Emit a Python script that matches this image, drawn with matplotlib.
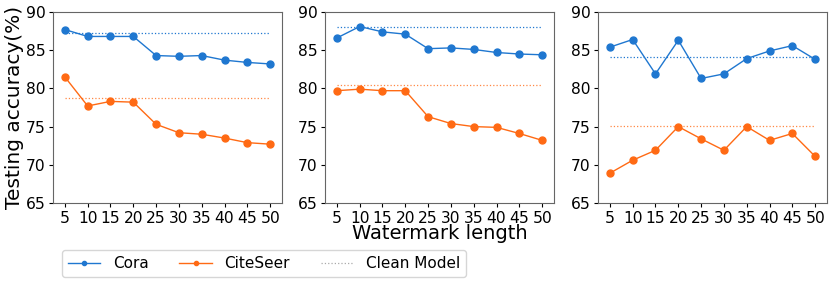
import numpy as np
import matplotlib
matplotlib.use("Agg")
import matplotlib.pyplot as plt
from matplotlib.lines import Line2D

# watermark lengths
wm_len = [5, 10, 15, 20, 25, 30, 35, 40, 45, 50]

# panel 1
cora_1 = [87.7, 86.8, 86.8, 86.8, 84.3, 84.2, 84.3, 83.7, 83.4, 83.2]
citeseer_1 = [81.5, 77.7, 78.3, 78.2, 75.3, 74.2, 74.0, 73.5, 72.9, 72.7]
clean_cora_1 = 87.25
clean_citeseer_1 = 78.7

# panel 2
cora_2 = [86.6, 88.1, 87.4, 87.1, 85.2, 85.3, 85.1, 84.7, 84.5, 84.4]
citeseer_2 = [79.7, 79.9, 79.7, 79.7, 76.3, 75.4, 75.0, 74.9, 74.1, 73.2]
clean_cora_2 = 88.0
clean_citeseer_2 = 80.4

# panel 3
cora_3 = [85.4, 86.4, 81.9, 86.3, 81.3, 81.9, 83.9, 84.9, 85.6, 83.8]
citeseer_3 = [68.9, 70.6, 71.9, 75.0, 73.4, 71.9, 75.0, 73.2, 74.1, 71.1]
clean_cora_3 = 84.1
clean_citeseer_3 = 75.1

panels = [
    (cora_1, citeseer_1, clean_cora_1, clean_citeseer_1),
    (cora_2, citeseer_2, clean_cora_2, clean_citeseer_2),
    (cora_3, citeseer_3, clean_cora_3, clean_citeseer_3),
]

blue = '#1f77d0'
orange = '#ff6a14'

fig = plt.figure(figsize=(8.31, 2.83), dpi=100)
lefts = [53, 325, 598]
width = 229
bottom_px, top_px = 203, 12
axes = []
for i, (cora, cite, cc, ccs) in enumerate(panels):
    ax = fig.add_axes([lefts[i] / 831, 1 - bottom_px / 283, width / 831, (bottom_px - top_px) / 283])
    l1, = ax.plot(wm_len, cora, color=blue, marker='o', markersize=5, linewidth=1, label='Cora')
    l2, = ax.plot(wm_len, cite, color=orange, marker='o', markersize=5, linewidth=1, label='CiteSeer')
    ax.plot([wm_len[0], wm_len[-1]], [cc, cc], color=blue, linestyle=':', linewidth=0.9)
    ax.plot([wm_len[0], wm_len[-1]], [ccs, ccs], color=orange, linestyle=':', linewidth=0.9, alpha=0.8)
    ax.set_ylim(65, 90)
    ax.set_yticks([65, 70, 75, 80, 85, 90])
    ax.set_xlim(2.4, 52.6)
    ax.set_xticks(wm_len)
    ax.tick_params(labelsize=11.2, length=3, pad=2.5)
    for s in ax.spines.values():
        s.set_color('#666666')
    axes.append(ax)

axes[0].set_ylabel('Testing accuracy(%)', fontsize=14.5, labelpad=1)
axes[1].set_xlabel('Watermark length', fontsize=14, labelpad=-1)

h3 = Line2D([], [], color='#aaaaaa', linestyle=':', linewidth=0.9, label='Clean Model')
fig.legend(handles=[l1, l2, h3], ncol=3, fontsize=11, loc='lower left',
           bbox_to_anchor=(62 / 831, 1 - 277 / 283), borderaxespad=0,
           columnspacing=2.0, handlelength=2.1, handletextpad=0.85,
           markerscale=0.6, borderpad=0.4)

plt.savefig('out.png', dpi=100)
